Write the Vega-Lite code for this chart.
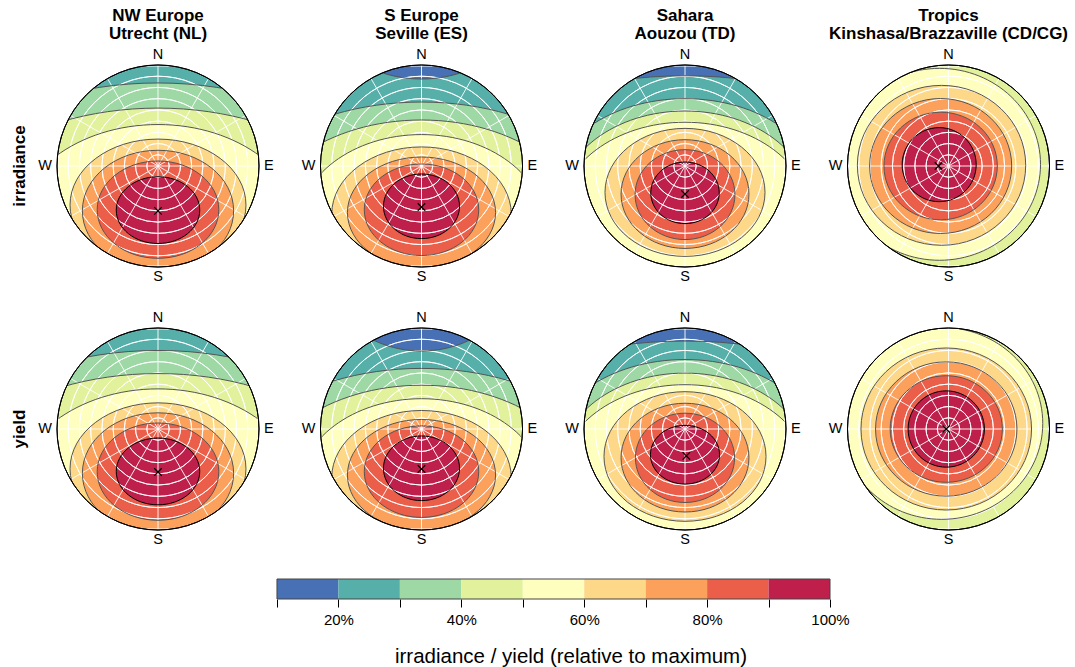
{
  "$schema": "https://vega.github.io/schema/vega-lite/v6.json",
  "padding": {"left": 10, "top": 7, "right": 0, "bottom": 0},
  "background": "white",
  "spacing": 31,
  "config": {"view": {"stroke": null}, "font": "Liberation Sans"},
  "datasets": {
    "contours": [
      {"m": "irradiance", "s": "NW Europe|Utrecht (NL)", "kind": "c", "lvl": 20, "x": 0, "y": 0, "a": 90, "k": 1},
      {"m": "irradiance", "s": "NW Europe|Utrecht (NL)", "kind": "c", "lvl": 30, "x": 0, "y": -121, "a": 260, "k": 0.75},
      {"m": "irradiance", "s": "NW Europe|Utrecht (NL)", "kind": "c", "lvl": 40, "x": 0, "y": -103.8, "a": 222, "k": 0.7},
      {"m": "irradiance", "s": "NW Europe|Utrecht (NL)", "kind": "c", "lvl": 50, "x": 0, "y": -59.8, "a": 129, "k": 0.75},
      {"m": "irradiance", "s": "NW Europe|Utrecht (NL)", "kind": "c", "lvl": 60, "x": 0, "y": -34.8, "a": 78.4, "k": 0.75},
      {"m": "irradiance", "s": "NW Europe|Utrecht (NL)", "kind": "c", "lvl": 70, "x": 0, "y": -39.9, "a": 67.4, "k": 0.8},
      {"m": "irradiance", "s": "NW Europe|Utrecht (NL)", "kind": "c", "lvl": 80, "x": 0, "y": -38.9, "a": 54.2, "k": 0.8},
      {"m": "irradiance", "s": "NW Europe|Utrecht (NL)", "kind": "c", "lvl": 90, "x": 0, "y": -39.3, "a": 37.2, "k": 0.8},
      {"m": "irradiance", "s": "NW Europe|Utrecht (NL)", "kind": "opt", "x": 0, "y": -40},

      {"m": "yield", "s": "NW Europe|Utrecht (NL)", "kind": "c", "lvl": 20, "x": 0, "y": 0, "a": 90, "k": 1},
      {"m": "yield", "s": "NW Europe|Utrecht (NL)", "kind": "c", "lvl": 30, "x": 0, "y": -125, "a": 260, "k": 0.75},
      {"m": "yield", "s": "NW Europe|Utrecht (NL)", "kind": "c", "lvl": 40, "x": 0, "y": -106, "a": 222, "k": 0.7},
      {"m": "yield", "s": "NW Europe|Utrecht (NL)", "kind": "c", "lvl": 50, "x": 0, "y": -61, "a": 129, "k": 0.75},
      {"m": "yield", "s": "NW Europe|Utrecht (NL)", "kind": "c", "lvl": 60, "x": 0, "y": -35.5, "a": 78.4, "k": 0.75},
      {"m": "yield", "s": "NW Europe|Utrecht (NL)", "kind": "c", "lvl": 70, "x": 0, "y": -39.5, "a": 67.4, "k": 0.8},
      {"m": "yield", "s": "NW Europe|Utrecht (NL)", "kind": "c", "lvl": 80, "x": 0, "y": -38, "a": 54.2, "k": 0.8},
      {"m": "yield", "s": "NW Europe|Utrecht (NL)", "kind": "c", "lvl": 90, "x": 0, "y": -37.8, "a": 37.2, "k": 0.8},
      {"m": "yield", "s": "NW Europe|Utrecht (NL)", "kind": "opt", "x": 0, "y": -38.3},

      {"m": "irradiance", "s": "S Europe|Seville (ES)", "kind": "c", "lvl": 20, "x": 0, "y": 0, "a": 90, "k": 1},
      {"m": "irradiance", "s": "S Europe|Seville (ES)", "kind": "c", "lvl": 10, "x": 0, "y": 189.5, "a": 112, "k": 1},
      {"m": "irradiance", "s": "S Europe|Seville (ES)", "kind": "c", "lvl": 30, "x": 0, "y": -83, "a": 200, "k": 0.7},
      {"m": "irradiance", "s": "S Europe|Seville (ES)", "kind": "c", "lvl": 40, "x": 0, "y": -64, "a": 150, "k": 0.7},
      {"m": "irradiance", "s": "S Europe|Seville (ES)", "kind": "c", "lvl": 50, "x": 0, "y": -54.5, "a": 110, "k": 0.75},
      {"m": "irradiance", "s": "S Europe|Seville (ES)", "kind": "c", "lvl": 60, "x": 0, "y": -43, "a": 80, "k": 0.75},
      {"m": "irradiance", "s": "S Europe|Seville (ES)", "kind": "c", "lvl": 70, "x": 0, "y": -41.5, "a": 66, "k": 0.75},
      {"m": "irradiance", "s": "S Europe|Seville (ES)", "kind": "c", "lvl": 80, "x": 0, "y": -39, "a": 51, "k": 0.8},
      {"m": "irradiance", "s": "S Europe|Seville (ES)", "kind": "c", "lvl": 90, "x": 0, "y": -35.9, "a": 33.9, "k": 0.85},
      {"m": "irradiance", "s": "S Europe|Seville (ES)", "kind": "opt", "x": 0, "y": -36.5},

      {"m": "yield", "s": "S Europe|Seville (ES)", "kind": "c", "lvl": 20, "x": 0, "y": 0, "a": 90, "k": 1},
      {"m": "yield", "s": "S Europe|Seville (ES)", "kind": "c", "lvl": 10, "x": 0, "y": 168.8, "a": 99.3, "k": 1},
      {"m": "yield", "s": "S Europe|Seville (ES)", "kind": "c", "lvl": 30, "x": 0, "y": -86, "a": 200, "k": 0.7},
      {"m": "yield", "s": "S Europe|Seville (ES)", "kind": "c", "lvl": 40, "x": 0, "y": -66, "a": 150, "k": 0.7},
      {"m": "yield", "s": "S Europe|Seville (ES)", "kind": "c", "lvl": 50, "x": 0, "y": -55.5, "a": 110, "k": 0.75},
      {"m": "yield", "s": "S Europe|Seville (ES)", "kind": "c", "lvl": 60, "x": 0, "y": -43.5, "a": 80, "k": 0.75},
      {"m": "yield", "s": "S Europe|Seville (ES)", "kind": "c", "lvl": 70, "x": 0, "y": -41, "a": 66, "k": 0.75},
      {"m": "yield", "s": "S Europe|Seville (ES)", "kind": "c", "lvl": 80, "x": 0, "y": -38, "a": 51, "k": 0.8},
      {"m": "yield", "s": "S Europe|Seville (ES)", "kind": "c", "lvl": 90, "x": 0, "y": -35, "a": 33.9, "k": 0.85},
      {"m": "yield", "s": "S Europe|Seville (ES)", "kind": "opt", "x": 0, "y": -35.6},

      {"m": "irradiance", "s": "Sahara|Aouzou (TD)", "kind": "c", "lvl": 10, "x": 0, "y": 0, "a": 90, "k": 1},
      {"m": "irradiance", "s": "Sahara|Aouzou (TD)", "kind": "c", "lvl": 20, "x": 0, "y": -129.6, "a": 300, "k": 0.7},
      {"m": "irradiance", "s": "Sahara|Aouzou (TD)", "kind": "c", "lvl": 30, "x": 0, "y": -24, "a": 120, "k": 0.7},
      {"m": "irradiance", "s": "Sahara|Aouzou (TD)", "kind": "c", "lvl": 40, "x": 0, "y": -35, "a": 112, "k": 0.75},
      {"m": "irradiance", "s": "Sahara|Aouzou (TD)", "kind": "c", "lvl": 50, "x": 0, "y": -45, "a": 112, "k": 0.75},
      {"m": "irradiance", "s": "Sahara|Aouzou (TD)", "kind": "c", "lvl": 60, "x": 0, "y": -23.5, "a": 71.3, "k": 0.8},
      {"m": "irradiance", "s": "Sahara|Aouzou (TD)", "kind": "c", "lvl": 70, "x": 0, "y": -25, "a": 57, "k": 0.85},
      {"m": "irradiance", "s": "Sahara|Aouzou (TD)", "kind": "c", "lvl": 80, "x": 0, "y": -25.5, "a": 44.5, "k": 0.9},
      {"m": "irradiance", "s": "Sahara|Aouzou (TD)", "kind": "c", "lvl": 90, "x": 0, "y": -23.9, "a": 30.5, "k": 0.9},
      {"m": "irradiance", "s": "Sahara|Aouzou (TD)", "kind": "opt", "x": 0, "y": -25},

      {"m": "yield", "s": "Sahara|Aouzou (TD)", "kind": "c", "lvl": 10, "x": 0, "y": 0, "a": 90, "k": 1},
      {"m": "yield", "s": "Sahara|Aouzou (TD)", "kind": "c", "lvl": 20, "x": 0, "y": -131.6, "a": 300, "k": 0.7},
      {"m": "yield", "s": "Sahara|Aouzou (TD)", "kind": "c", "lvl": 30, "x": 0, "y": -23.5, "a": 122, "k": 0.7},
      {"m": "yield", "s": "Sahara|Aouzou (TD)", "kind": "c", "lvl": 40, "x": 0, "y": -34.2, "a": 112, "k": 0.75},
      {"m": "yield", "s": "Sahara|Aouzou (TD)", "kind": "c", "lvl": 50, "x": 0, "y": -44.5, "a": 112, "k": 0.75},
      {"m": "yield", "s": "Sahara|Aouzou (TD)", "kind": "c", "lvl": 60, "x": 0, "y": -24.5, "a": 72.2, "k": 0.8},
      {"m": "yield", "s": "Sahara|Aouzou (TD)", "kind": "c", "lvl": 70, "x": 0, "y": -25.5, "a": 57, "k": 0.85},
      {"m": "yield", "s": "Sahara|Aouzou (TD)", "kind": "c", "lvl": 80, "x": 0, "y": -25.7, "a": 44.2, "k": 0.9},
      {"m": "yield", "s": "Sahara|Aouzou (TD)", "kind": "c", "lvl": 90, "x": 0, "y": -22.9, "a": 30.8, "k": 0.85},
      {"m": "yield", "s": "Sahara|Aouzou (TD)", "kind": "opt", "x": 1.2, "y": -23.9},

      {"m": "irradiance", "s": "Tropics|Kinshasa/Brazzaville (CD/CG)", "kind": "c", "lvl": 40, "x": 0, "y": 0, "a": 90, "k": 1},
      {"m": "irradiance", "s": "Tropics|Kinshasa/Brazzaville (CD/CG)", "kind": "c", "lvl": 50, "x": -8, "y": 1.5, "a": 90, "k": 0.95},
      {"m": "irradiance", "s": "Tropics|Kinshasa/Brazzaville (CD/CG)", "kind": "c", "lvl": 60, "x": -6.2, "y": 0.6, "a": 75, "k": 0.95},
      {"m": "irradiance", "s": "Tropics|Kinshasa/Brazzaville (CD/CG)", "kind": "c", "lvl": 70, "x": -7, "y": 0, "a": 63.3, "k": 0.95},
      {"m": "irradiance", "s": "Tropics|Kinshasa/Brazzaville (CD/CG)", "kind": "c", "lvl": 80, "x": -7, "y": 0, "a": 50.5, "k": 0.95},
      {"m": "irradiance", "s": "Tropics|Kinshasa/Brazzaville (CD/CG)", "kind": "c", "lvl": 90, "x": -8.3, "y": 1.2, "a": 33, "k": 1},
      {"m": "irradiance", "s": "Tropics|Kinshasa/Brazzaville (CD/CG)", "kind": "opt", "x": -8.9, "y": 0},

      {"m": "yield", "s": "Tropics|Kinshasa/Brazzaville (CD/CG)", "kind": "c", "lvl": 40, "x": 0, "y": 0, "a": 90, "k": 1},
      {"m": "yield", "s": "Tropics|Kinshasa/Brazzaville (CD/CG)", "kind": "c", "lvl": 50, "x": -6, "y": 5, "a": 90, "k": 0.95},
      {"m": "yield", "s": "Tropics|Kinshasa/Brazzaville (CD/CG)", "kind": "c", "lvl": 60, "x": -2, "y": 0, "a": 76, "k": 0.95},
      {"m": "yield", "s": "Tropics|Kinshasa/Brazzaville (CD/CG)", "kind": "c", "lvl": 70, "x": -2, "y": 0, "a": 63, "k": 0.95},
      {"m": "yield", "s": "Tropics|Kinshasa/Brazzaville (CD/CG)", "kind": "c", "lvl": 80, "x": -2, "y": 0, "a": 50, "k": 0.95},
      {"m": "yield", "s": "Tropics|Kinshasa/Brazzaville (CD/CG)", "kind": "c", "lvl": 90, "x": -2, "y": 0, "a": 34, "k": 1},
      {"m": "yield", "s": "Tropics|Kinshasa/Brazzaville (CD/CG)", "kind": "opt", "x": -2, "y": 0}
    ],
    "rings": [{"t": 10}, {"t": 20}, {"t": 30}, {"t": 40}, {"t": 50}, {"t": 60}, {"t": 70}, {"t": 80}],
    "spokes": [
      {"x1": 0, "y1": 90, "x2": 0, "y2": -90},
      {"x1": 45, "y1": 77.94, "x2": -45, "y2": -77.94},
      {"x1": 77.94, "y1": 45, "x2": -77.94, "y2": -45},
      {"x1": 90, "y1": 0, "x2": -90, "y2": 0},
      {"x1": 77.94, "y1": -45, "x2": -77.94, "y2": 45},
      {"x1": 45, "y1": -77.94, "x2": -45, "y2": 77.94}
    ],
    "bins": [
      {"lo": 10, "hi": 20}, {"lo": 20, "hi": 30}, {"lo": 30, "hi": 40}, {"lo": 40, "hi": 50}, {"lo": 50, "hi": 60},
      {"lo": 60, "hi": 70}, {"lo": 70, "hi": 80}, {"lo": 80, "hi": 90}, {"lo": 90, "hi": 100}
    ]
  },
  "vconcat": [
    {
      "data": {"name": "contours"},
      "bounds": "flush",
      "spacing": {"row": 61, "column": 61.5},
      "facet": {
        "column": {
          "field": "s", "type": "nominal",
          "sort": ["NW Europe|Utrecht (NL)", "S Europe|Seville (ES)", "Sahara|Aouzou (TD)", "Tropics|Kinshasa/Brazzaville (CD/CG)"],
          "header": {"title": null, "labelExpr": "split(datum.value, '|')", "labelFont": "Liberation Sans", "labelFontSize": 17, "labelFontWeight": "bold", "labelColor": "#000000", "labelPadding": 22, "labelLineHeight": 18, "labelLimit": 0}
        },
        "row": {
          "field": "m", "type": "nominal", "sort": ["irradiance", "yield"],
          "header": {"title": null, "labelFont": "Liberation Sans", "labelFontSize": 17, "labelFontWeight": "bold", "labelColor": "#000000", "labelPadding": 28, "labelLimit": 0}
        }
      },
      "spec": {
        "width": 202,
        "height": 202,
        "layer": [
          {
            "transform": [{"filter": "datum.kind == 'c'"}],
            "mark": {"type": "point", "filled": true, "opacity": 1, "strokeWidth": 0, "clip": true},
            "encoding": {
              "x": {"field": "x", "type": "quantitative", "scale": {"domain": [-90, 90], "nice": false, "zero": false}, "axis": null},
              "y": {"field": "y", "type": "quantitative", "scale": {"domain": [-90, 90], "nice": false, "zero": false}, "axis": null},
              "size": {"field": "a", "type": "quantitative", "scale": {"type": "pow", "exponent": 2, "domain": [0, 90], "range": [0, 40804], "nice": false, "zero": true}, "legend": null},
              "shape": {"field": "k", "type": "ordinal", "scale": {
                "domain": [0.6, 0.65, 0.7, 0.75, 0.8, 0.85, 0.9, 0.95, 1],
                "range": [
                  "M-1,0A1,0.6,0,1,1,1,0A1,0.6,0,1,1,-1,0Z",
                  "M-1,0A1,0.65,0,1,1,1,0A1,0.65,0,1,1,-1,0Z",
                  "M-1,0A1,0.7,0,1,1,1,0A1,0.7,0,1,1,-1,0Z",
                  "M-1,0A1,0.75,0,1,1,1,0A1,0.75,0,1,1,-1,0Z",
                  "M-1,0A1,0.8,0,1,1,1,0A1,0.8,0,1,1,-1,0Z",
                  "M-1,0A1,0.85,0,1,1,1,0A1,0.85,0,1,1,-1,0Z",
                  "M-1,0A1,0.9,0,1,1,1,0A1,0.9,0,1,1,-1,0Z",
                  "M-1,0A1,0.95,0,1,1,1,0A1,0.95,0,1,1,-1,0Z",
                  "M-1,0A1,1,0,1,1,1,0A1,1,0,1,1,-1,0Z"
                ]}, "legend": null},
              "color": {"field": "lvl", "type": "quantitative", "scale": {"type": "threshold", "domain": [20, 30, 40, 50, 60, 70, 80, 90], "range": ["#4870b4", "#56afa9", "#9dd8a5", "#e2f29c", "#feffbe", "#fed889", "#fca15c", "#eb5e4a", "#be1f4b"]}, "legend": null}
            }
          },
          {
            "data": {"name": "rings"},
            "mark": {"type": "arc", "theta": 0, "theta2": 6.2832, "filled": false, "stroke": "white", "strokeWidth": 0.9, "clip": true},
            "encoding": {
              "radius": {"field": "t", "type": "quantitative", "scale": {"type": "linear", "domain": [0, 90], "range": [0, 101], "zero": true, "nice": false}},
              "radius2": {"field": "t"}
            }
          },
          {
            "data": {"name": "spokes"},
            "mark": {"type": "rule", "stroke": "white", "strokeWidth": 0.9},
            "encoding": {
              "x": {"field": "x1", "type": "quantitative"},
              "y": {"field": "y1", "type": "quantitative"},
              "x2": {"field": "x2"},
              "y2": {"field": "y2"}
            }
          },
          {
            "transform": [{"filter": "datum.kind == 'c'"}],
            "mark": {"type": "point", "filled": false, "opacity": 1, "strokeWidth": 1, "clip": true},
            "encoding": {
              "x": {"field": "x", "type": "quantitative"},
              "y": {"field": "y", "type": "quantitative"},
              "size": {"field": "a", "type": "quantitative"},
              "shape": {"field": "k", "type": "ordinal"},
              "stroke": {"condition": {"test": "datum.lvl == 90", "value": "#000000"}, "value": "#555555"}
            }
          },
          {
            "data": {"values": [{"r": "mask"}]},
            "mark": {"type": "arc", "theta": 0, "theta2": 6.2832, "fill": "white", "clip": true},
            "encoding": {"radius": {"datum": 90}, "radius2": {"datum": 140}}
          },
          {
            "data": {"values": [{"r": "frame"}]},
            "mark": {"type": "rect", "filled": false, "stroke": "white", "strokeWidth": 3},
            "encoding": {"x": {"datum": -90, "type": "quantitative"}, "x2": {"datum": 90}, "y": {"datum": -90, "type": "quantitative"}, "y2": {"datum": 90}}
          },
          {
            "data": {"values": [{"r": "rim"}]},
            "mark": {"type": "arc", "theta": 0, "theta2": 6.2832, "filled": false, "stroke": "#000000", "strokeWidth": 1},
            "encoding": {"radius": {"datum": 90}, "radius2": {"datum": 90}}
          },
          {
            "transform": [{"filter": "datum.kind == 'opt'"}],
            "mark": {"type": "point", "shape": "M-1,-1L1,1M-1,1L1,-1", "size": 56, "filled": false, "opacity": 1, "stroke": "#000000", "strokeWidth": 1.2},
            "encoding": {
              "x": {"field": "x", "type": "quantitative"},
              "y": {"field": "y", "type": "quantitative"}
            }
          },
          {
            "data": {"values": [{"d": "N"}]},
            "mark": {"type": "text", "baseline": "bottom", "align": "center", "dy": -3, "fontSize": 14.5, "color": "#000000"},
            "encoding": {"x": {"datum": 0, "type": "quantitative"}, "y": {"datum": 90, "type": "quantitative"}, "text": {"field": "d"}}
          },
          {
            "data": {"values": [{"d": "S"}]},
            "mark": {"type": "text", "baseline": "top", "align": "center", "dy": 3, "fontSize": 14.5, "color": "#000000"},
            "encoding": {"x": {"datum": 0, "type": "quantitative"}, "y": {"datum": -90, "type": "quantitative"}, "text": {"field": "d"}}
          },
          {
            "data": {"values": [{"d": "E"}]},
            "mark": {"type": "text", "baseline": "middle", "align": "left", "dx": 5, "fontSize": 14.5, "color": "#000000"},
            "encoding": {"x": {"datum": 90, "type": "quantitative"}, "y": {"datum": 0, "type": "quantitative"}, "text": {"field": "d"}}
          },
          {
            "data": {"values": [{"d": "W"}]},
            "mark": {"type": "text", "baseline": "middle", "align": "right", "dx": -5, "fontSize": 14.5, "color": "#000000"},
            "encoding": {"x": {"datum": -90, "type": "quantitative"}, "y": {"datum": 0, "type": "quantitative"}, "text": {"field": "d"}}
          }
        ]
      }
    },
    {
      "width": 1000,
      "height": 20,
      "data": {"name": "bins"},
      "layer": [
        {
          "mark": {"type": "rect"},
          "encoding": {
            "x": {"field": "lo", "type": "quantitative", "scale": {"domain": [-25.8, 136.94], "nice": false, "zero": false},
              "axis": {"values": [10, 20, 30, 40, 50, 60, 70, 80, 90, 100], "labelExpr": "datum.value % 20 == 0 ? datum.value + '%' : ''", "domain": false, "grid": false, "tickSize": 8, "tickColor": "#000000", "tickWidth": 1, "labelFont": "Liberation Sans", "labelFontSize": 15, "labelColor": "#000000", "labelPadding": 5, "labelFlush": false, "labelOverlap": false, "title": "irradiance / yield (relative to maximum)", "titleFont": "Liberation Sans", "titleFontSize": 20.5, "titleFontWeight": "normal", "titleColor": "#000000", "titlePadding": 19, "titleX": 513.5, "titleAlign": "center"}},
            "x2": {"field": "hi"},
            "color": {"field": "lo", "type": "quantitative", "scale": {"type": "threshold", "domain": [20, 30, 40, 50, 60, 70, 80, 90], "range": ["#4870b4", "#56afa9", "#9dd8a5", "#e2f29c", "#feffbe", "#fed889", "#fca15c", "#eb5e4a", "#be1f4b"]}, "legend": null}
          }
        },
        {
          "data": {"values": [{"r": "frame"}]},
          "mark": {"type": "rect", "filled": false, "stroke": "#444444", "strokeWidth": 1},
          "encoding": {"x": {"datum": 10, "type": "quantitative"}, "x2": {"datum": 100}}
        }
      ]
    }
  ]
}
